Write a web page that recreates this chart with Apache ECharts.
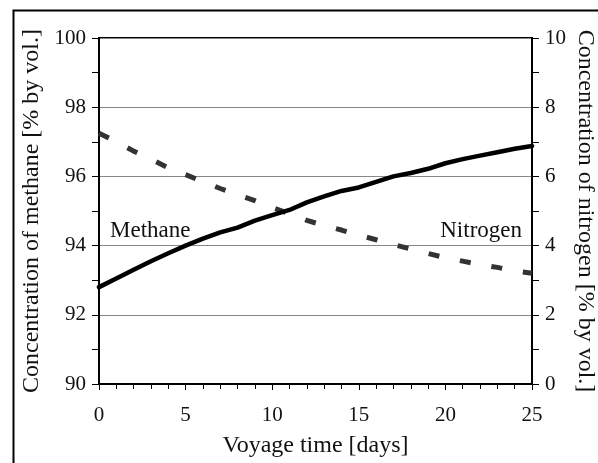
<!DOCTYPE html>
<html>
<head>
<meta charset="utf-8">
<script src="https://cdn.jsdelivr.net/npm/echarts@6/dist/echarts.min.js"></script>
<style>html,body{margin:0;padding:0;background:#fff}#c{width:598px;height:463px}</style>
</head>
<body>
<div id="c"></div>
<script>
const days = [0,1,2,3,4,5,6,7,8,9,10,11,12,13,14,15,16,17,18,19,20,21,22,23,24,25];
const methane = [92.8,93.05,93.3,93.55,93.78,94.0,94.2,94.38,94.52,94.72,94.88,95.03,95.25,95.42,95.58,95.68,95.84,96.0,96.1,96.22,96.38,96.5,96.6,96.7,96.8,96.88];
const nitrogen = [7.25,7.0,6.73,6.5,6.25,6.05,5.85,5.65,5.47,5.3,5.1,4.92,4.73,4.58,4.45,4.3,4.17,4.03,3.9,3.77,3.65,3.55,3.45,3.37,3.27,3.2];
const leftTitle = 'Concentration of methane [% by vol.]';
const rightTitle = 'Concentration of nitrogen [% by vol.]';
const xTitle = 'Voyage time [days]';
const seriesNames = ['Methane','Nitrogen'];

const FONT = 'Liberation Serif';
const chart = echarts.init(document.getElementById('c'), null, {renderer:'canvas'});
chart.setOption({
  animation:false,
  backgroundColor:'#fff',
  grid:{left:99,right:66,top:38,bottom:79,containLabel:false,outerBoundsMode:'none',show:true,borderColor:'#000',borderWidth:2,backgroundColor:'transparent'},
  xAxis:{type:'value',min:0,max:25,interval:5,
    name:xTitle,nameLocation:'middle',nameGap:50,nameMoveOverlap:false,
    nameTextStyle:{fontFamily:FONT,fontSize:24,color:'#111'},
    axisLine:{lineStyle:{color:'#000',width:2}},
    axisTick:{show:true,length:6,lineStyle:{color:'#000',width:1}},
    minorTick:{show:true,splitNumber:5,length:5,lineStyle:{color:'#000',width:1}},
    axisLabel:{fontFamily:FONT,fontSize:21,color:'#111',margin:21},
    splitLine:{show:false}},
  yAxis:[
    {type:'value',min:90,max:100,interval:2,position:'left',
      name:leftTitle,nameLocation:'middle',nameGap:55,nameRotate:90,nameMoveOverlap:false,
      nameTextStyle:{fontFamily:FONT,fontSize:24,color:'#111'},
      axisLine:{show:true,lineStyle:{color:'#000',width:2}},
      axisTick:{show:true,length:7,lineStyle:{color:'#000',width:1}},
      minorTick:{show:true,splitNumber:2,length:7,lineStyle:{color:'#000',width:1}},
      axisLabel:{fontFamily:FONT,fontSize:21,color:'#111',margin:13},
      splitLine:{show:true,lineStyle:{color:'#888',width:1.2}}},
    {type:'value',min:0,max:10,interval:2,position:'right',
      name:rightTitle,nameLocation:'middle',nameGap:41,nameRotate:-90,nameMoveOverlap:false,
      nameTextStyle:{fontFamily:FONT,fontSize:24,color:'#111'},
      axisLine:{show:true,lineStyle:{color:'#000',width:2}},
      axisTick:{show:true,length:7,lineStyle:{color:'#000',width:1}},
      minorTick:{show:true,splitNumber:2,length:7,lineStyle:{color:'#000',width:1}},
      axisLabel:{fontFamily:FONT,fontSize:21,color:'#111',margin:13},
      splitLine:{show:false}}
  ],
  series:[
    {name:seriesNames[0],type:'line',yAxisIndex:0,showSymbol:false,
      data:days.map((d,i)=>[d,methane[i]]),
      lineStyle:{color:'#000',width:4.5,cap:'round',join:'round'},z:3},
    {name:seriesNames[1],type:'line',yAxisIndex:1,showSymbol:false,
      data:days.map((d,i)=>[d,nitrogen[i]]),
      lineStyle:{color:'#333',width:5,type:[11,21],cap:'butt'},z:2}
  ],
  graphic:[
    {type:'rect',left:11,top:8,shape:{x:0,y:0,width:700,height:600},style:{fill:'none',stroke:'#000',lineWidth:2},silent:true,z:-1},
    {type:'text',left:110,top:219,style:{text:seriesNames[0],font:'23px "Liberation Serif"',fill:'#111'}},
    {type:'text',right:598-522,top:219,style:{text:seriesNames[1],font:'23px "Liberation Serif"',fill:'#111'}}
  ]
});
</script>
</body>
</html>
